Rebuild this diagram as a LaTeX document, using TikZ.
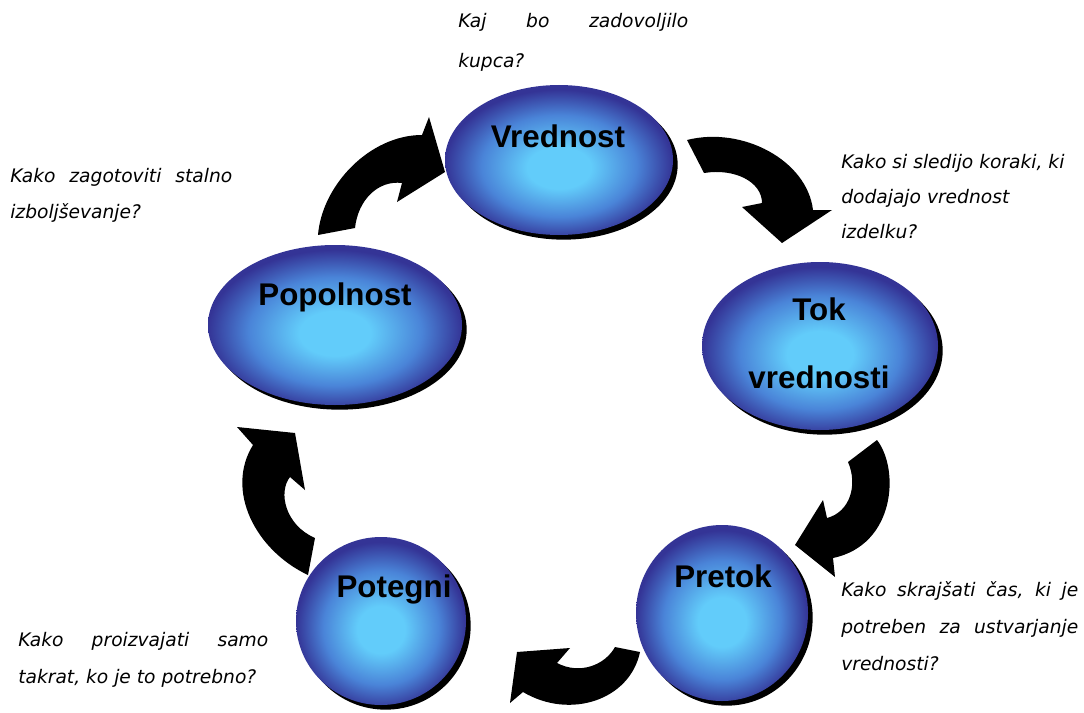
\documentclass[tikz,border=0pt]{standalone}
\usepackage{fontspec}
\setmainfont{Liberation Sans}
\newfontfamily\qfont{DejaVu Sans}
\usetikzlibrary{shapes.geometric,shadows}
\definecolor{ballC}{RGB}{98,204,250}
\definecolor{ballM}{RGB}{74,132,216}
\definecolor{ballD}{RGB}{52,52,150}
\pgfdeclareradialshading{ballshade}{\pgfpoint{0bp}{-3bp}}{color(0bp)=(ballC); color(7bp)=(ballC); color(17bp)=(ballM); color(25bp)=(ballD); color(50bp)=(ballD)}
\newcommand\jl[2]{\makebox[#1][s]{#2}}
\begin{document}
\begin{tikzpicture}[x=0.75pt,y=-0.75pt,
  ball/.style={ellipse, inner sep=0pt, outer sep=0pt, shade, shading=ballshade,
    general shadow={fill=black, shadow xshift=3.5pt, shadow yshift=-3.5pt}},
  ttl/.style={font=\bfseries\fontsize{23.5}{28}\selectfont, anchor=base, inner sep=0pt},
  q/.style={font=\qfont\itshape\fontsize{14}{17}\selectfont, anchor=base west, inner sep=0pt},
  barrow/.style={fill=black}]
\path[use as bounding box] (0,0) rectangle (1084,713);

% curved block arrows
\fill[barrow] (318,235) .. controls (322,185) and (370,135) .. (422,135) -- (429,117) -- (445,172) -- (397,202) -- (402,183) .. controls (378,180) and (358,200) .. (355,228) -- cycle;
\fill[barrow] (687,140) .. controls (742,126) and (807,160) .. (813,210) -- (832,210) -- (782,243) -- (742,207) -- (762,203) .. controls (762,182) and (735,168) .. (704,173) -- cycle;
\fill[barrow] (877,440) .. controls (900,470) and (895,545) .. (833,558) -- (835,577) -- (795,545) -- (823,500) -- (827,518) .. controls (850,512) and (858,485) .. (848,462) -- cycle;
\fill[barrow] (640,652) .. controls (630,700) and (570,720) .. (523,692) -- (510,703) -- (517,652) -- (570,648) -- (557,663) .. controls (580,675) and (605,665) .. (615,647) -- cycle;
\fill[barrow] (308,575) .. controls (255,550) and (225,490) .. (253,445) -- (237,427) -- (295,433) -- (305,490) -- (290,477) .. controls (278,492) and (285,525) .. (315,538) -- cycle;

% ellipses
\node[ball, minimum width=171pt, minimum height=112.5pt] (vred) at (559,160) {};
\node[ball, minimum width=177pt, minimum height=126pt] (tok) at (820,346) {};
\node[ball, minimum width=129pt, minimum height=132pt] (pret) at (722,613) {};
\node[ball, minimum width=127.5pt, minimum height=126pt] (poteg) at (381,621) {};
\node[ball, minimum width=190.5pt, minimum height=120pt] (popol) at (335,325) {};

% titles
\node[ttl] (vredT) at (558,147) {Vrednost};
\node[ttl] (tokT1) at (819,320) {Tok};
\node[ttl] (tokT2) at (819,388) {vrednosti};
\node[ttl] (pretT) at (723,587) {Pretok};
\node[ttl] (potegT) at (394,597) {Potegni};
\node[ttl] (popolT) at (335,305) {Popolnost};

% questions
\node[q] (q1) at (458,28) {\vtop{\baselineskip=30pt\hbox{\jl{172.5pt}{Kaj bo zadovoljilo}}\hbox{kupca?}}};
\node[q] (q2) at (10,182) {\vtop{\baselineskip=27pt\hbox{\jl{166.5pt}{Kako zagotoviti stalno}}\hbox{izboljševanje?}}};
\node[q] (q3) at (841,168) {\vtop{\baselineskip=26.25pt\hbox{Kako si sledijo koraki, ki}\hbox{dodajajo vrednost}\hbox{izdelku?}}};
\node[q] (q4) at (841,596) {\vtop{\baselineskip=28pt\hbox{\jl{177.75pt}{Kako skrajšati čas, ki je}}\hbox{\jl{177.75pt}{potreben za ustvarjanje}}\hbox{vrednosti?}}};
\node[q] (q5) at (18,646) {\vtop{\baselineskip=27.75pt\hbox{\jl{187.5pt}{Kako proizvajati samo}}\hbox{takrat, ko je to potrebno?}}};
\end{tikzpicture}
\end{document}
